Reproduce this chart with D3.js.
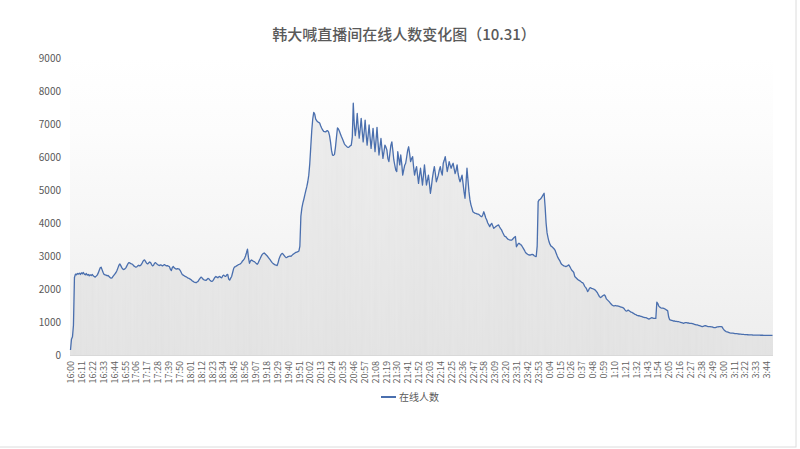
<!DOCTYPE html>
<html><head><meta charset="utf-8">
<script src="https://cdn.jsdelivr.net/npm/d3@7"></script>
<style>
html,body{margin:0;padding:0;background:#fff;}
svg{display:block;font-family:"Noto Sans CJK SC","Noto Sans",sans-serif;}
</style></head>
<body>
<svg id="chart" width="800" height="449"></svg>
<script>
const title = "韩大喊直播间在线人数变化图（10.31）";
const seriesName = "在线人数";
const startHour = 16, startMinute = 0;
const yTicks = [0,1000,2000,3000,4000,5000,6000,7000,8000,9000];
const xTickLabels = ["16:00","16:11","16:22","16:33","16:44","16:55","17:06","17:17","17:28","17:39","17:50","18:01","18:12","18:23","18:34","18:45","18:56","19:07","19:18","19:29","19:40","19:51","20:02","20:13","20:24","20:35","20:46","20:57","21:08","21:19","21:30","21:41","21:52","22:03","22:14","22:25","22:36","22:47","22:58","23:09","23:20","23:31","23:42","23:53","0:04","0:15","0:26","0:37","0:48","0:59","1:10","1:21","1:32","1:43","1:54","2:05","2:16","2:27","2:38","2:49","3:00","3:11","3:22","3:33","3:44"];
// one value per minute from 16:00
const viewers = [
150,480,550,900,2350,2450,2430,2470,2450,2480,
2440,2490,2460,2500,2450,2430,2470,2420,2440,2400,
2430,2410,2440,2400,2380,2360,2390,2420,2480,2560,
2640,2660,2580,2500,2440,2430,2420,2400,2410,2380,
2350,2330,2340,2380,2420,2460,2500,2560,2640,2720,
2760,2700,2640,2600,2590,2610,2640,2700,2760,2800,
2790,2770,2760,2740,2700,2680,2660,2670,2700,2720,
2700,2720,2760,2820,2870,2880,2830,2780,2760,2790,
2820,2800,2740,2700,2720,2780,2800,2770,2740,2720,
2710,2730,2720,2700,2720,2740,2720,2700,2710,2690,
2680,2600,2560,2650,2680,2640,2620,2600,2620,2610,
2600,2560,2500,2440,2420,2400,2380,2370,2350,2330,
2320,2300,2280,2250,2230,2210,2200,2190,2210,2230,
2280,2320,2360,2340,2300,2280,2270,2260,2290,2320,
2310,2270,2240,2230,2250,2300,2350,2380,2360,2340,
2370,2380,2350,2340,2400,2420,2390,2380,2430,2440,
2300,2270,2330,2380,2500,2620,2670,2680,2700,2720,
2740,2750,2770,2800,2850,2880,2920,3000,3100,3210,
2950,2780,2850,2880,2860,2840,2830,2800,2770,2750,
2800,2870,2930,3000,3050,3080,3090,3060,3030,3000,
2960,2920,2880,2840,2800,2770,2750,2730,2720,2710,
2800,2920,2990,3050,3080,3060,3020,2980,2950,2960,
2980,2990,3000,2990,3020,3050,3070,3090,3110,3120,
3130,3150,3300,4200,4450,4600,4720,4850,4980,5100,
5250,5450,5800,6300,6800,7150,7350,7300,7150,7100,
7070,7050,7030,6950,6880,6820,6780,6770,6760,6790,
6800,6760,6650,6450,6200,6060,6050,6080,6300,6600,
6880,6850,6780,6700,6620,6550,6480,6400,6360,6330,
6300,6290,6310,6340,6360,6600,7630,7000,6650,6900,
7320,6900,6570,6850,7170,6800,6460,6750,7120,6700,
6360,6650,6970,6600,6260,6550,6870,6500,6160,6500,
6900,6450,6060,6300,6560,6250,5960,6150,6360,6300,
6210,5950,5860,6100,6350,6460,6200,5910,5750,5600,
5560,6160,5950,5760,6060,5800,5450,5600,5750,5810,
6000,6200,6310,6100,5860,5950,6010,5700,5450,5600,
5710,5450,5200,5450,5660,5400,5150,5450,5760,5450,
5150,5300,5450,5200,4900,5100,5350,5550,5710,5500,
5250,5350,5450,5600,5710,5550,5450,5810,5900,6010,
5800,5560,5700,5860,5750,5660,5750,5810,5650,5500,
5600,5760,5500,5350,5250,5350,5450,5200,4950,4750,
5200,5660,5300,4950,4700,4550,4450,4340,4320,4300,
4290,4280,4270,4260,4230,4200,4190,4250,4340,4250,
4150,4090,4000,3950,3890,3950,3990,3920,3840,3860,
3890,3910,3930,3940,3880,3830,3790,3720,3660,3600,
3590,3560,3520,3500,3490,3480,3480,3500,3540,3570,
3590,3280,3330,3380,3380,3350,3330,3280,3230,3180,
3120,3080,3060,3040,3030,3030,3040,3050,3040,3010,
2990,2980,3300,4650,4700,4720,4750,4800,4850,4900,
4500,4000,3700,3550,3430,3350,3300,3280,3250,3220,
3180,3100,3020,2950,2900,2850,2780,2740,2720,2700,
2690,2680,2690,2710,2730,2680,2620,2570,2540,2500,
2380,2350,2320,2290,2270,2250,2230,2200,2190,2150,
2080,2050,2000,1920,1960,2030,2040,2020,2010,2000,
1980,1960,1920,1880,1820,1770,1740,1760,1790,1810,
1820,1780,1700,1670,1640,1610,1570,1540,1510,1490,
1490,1500,1490,1490,1480,1470,1460,1450,1440,1430,
1400,1360,1330,1340,1360,1340,1320,1300,1290,1270,
1250,1230,1220,1200,1190,1190,1180,1170,1160,1150,
1140,1130,1130,1120,1100,1090,1100,1120,1130,1120,
1110,1110,1110,1600,1560,1480,1450,1430,1420,1420,
1410,1400,1380,1360,1340,1150,1070,1060,1050,1040,
1030,1030,1020,1020,1010,1010,1000,990,980,970,
960,970,980,980,970,970,960,960,960,950,
940,930,920,910,910,900,890,880,870,860,
870,880,890,880,870,860,860,860,850,850,
840,830,830,840,850,850,860,860,860,850,
800,760,730,710,700,690,680,670,665,660,
660,655,650,648,645,640,636,632,630,628,
625,622,620,618,616,614,612,610,610,608,
606,605,604,603,602,601,600,600,599,598,
598,597,597,596,596,595,595,595,594,594,594
];

function minuteLabel(i){
  const t = startHour*60 + startMinute + i;
  const h = Math.floor(t/60) % 24, m = t % 60;
  return h + ":" + String(m).padStart(2,"0");
}
const categories = viewers.map((_, i) => minuteLabel(i));
const data = categories.map((c, i) => ({t: c, v: viewers[i]}));

const svg = d3.select("#chart");
const plot = {left: 70, right: 773, top: 58, bottom: 355};

const x = d3.scalePoint().domain(categories).range([plot.left, plot.right]).padding(0.5);
const y = d3.scaleLinear().domain([0, 9000]).range([plot.bottom, plot.top]);

// outer border
svg.append("rect").attr("x", -1).attr("y", -1).attr("width", 797).attr("height", 448)
  .attr("fill", "#fff").attr("stroke", "#dcdcdc").attr("stroke-width", 1);

// plot background gradient
const defs = svg.append("defs");
const grad = defs.append("linearGradient").attr("id", "bg").attr("x1", 0).attr("y1", 0).attr("x2", 0).attr("y2", 1);
grad.append("stop").attr("offset", "0%").attr("stop-color", "#ffffff");
grad.append("stop").attr("offset", "25%").attr("stop-color", "#fcfcfc");
grad.append("stop").attr("offset", "100%").attr("stop-color", "#ededed");
svg.append("rect").attr("x", plot.left).attr("y", plot.top)
  .attr("width", plot.right - plot.left).attr("height", plot.bottom - plot.top)
  .attr("fill", "url(#bg)");

// drop lines per point
svg.append("g").selectAll("line").data(data).join("line")
  .attr("x1", d => x(d.t)).attr("x2", d => x(d.t))
  .attr("y1", y(0)).attr("y2", d => y(d.v))
  .attr("stroke", "#d6d6d6").attr("stroke-width", 0.45);

// baseline
svg.append("line").attr("x1", plot.left).attr("x2", plot.right)
  .attr("y1", y(0) + 0.5).attr("y2", y(0) + 0.5)
  .attr("stroke", "#d9d9d9").attr("stroke-width", 1);

// line
svg.append("path").datum(data)
  .attr("fill", "none").attr("stroke", "#4a6fae").attr("stroke-width", 1.3)
  .attr("stroke-linejoin", "round")
  .attr("d", d3.line().x(d => x(d.t)).y(d => y(d.v)));

// y axis labels
const yAxis = d3.axisLeft(y).tickValues(yTicks).tickSize(0).tickPadding(0).tickFormat(d3.format("d"));
const gy = svg.append("g").attr("transform", `translate(61,0)`).call(yAxis);
gy.select(".domain").remove();
gy.selectAll("text").attr("fill", "#595959").attr("font-size", 10).style("font-family", "'Noto Sans CJK SC', sans-serif");

// x axis labels
const xAxis = d3.axisBottom(x).tickValues(xTickLabels).tickSize(0).tickPadding(0);
const gx = svg.append("g").attr("transform", `translate(0,${plot.bottom})`).call(xAxis);
gx.select(".domain").remove();
gx.selectAll("text")
  .attr("fill", "#606060").attr("font-size", 9)
  .attr("text-anchor", "end").attr("dy", "0.35em")
  .attr("transform", "translate(0,6) rotate(-90)")
  .attr("x", 0).attr("y", 0)
  .style("font-family", "'Noto Sans CJK SC', sans-serif");

// title
svg.append("text").attr("x", 404).attr("y", 40).attr("text-anchor", "middle")
  .attr("font-size", 15).attr("fill", "#595959").attr("font-weight", 500).text(title);

// legend
svg.append("line").attr("x1", 381).attr("x2", 396).attr("y1", 397).attr("y2", 397)
  .attr("stroke", "#4a6fae").attr("stroke-width", 2);
svg.append("text").attr("x", 399).attr("y", 397).attr("dy", "0.35em")
  .attr("font-size", 10).attr("fill", "#595959").text(seriesName);
</script>
</body></html>
